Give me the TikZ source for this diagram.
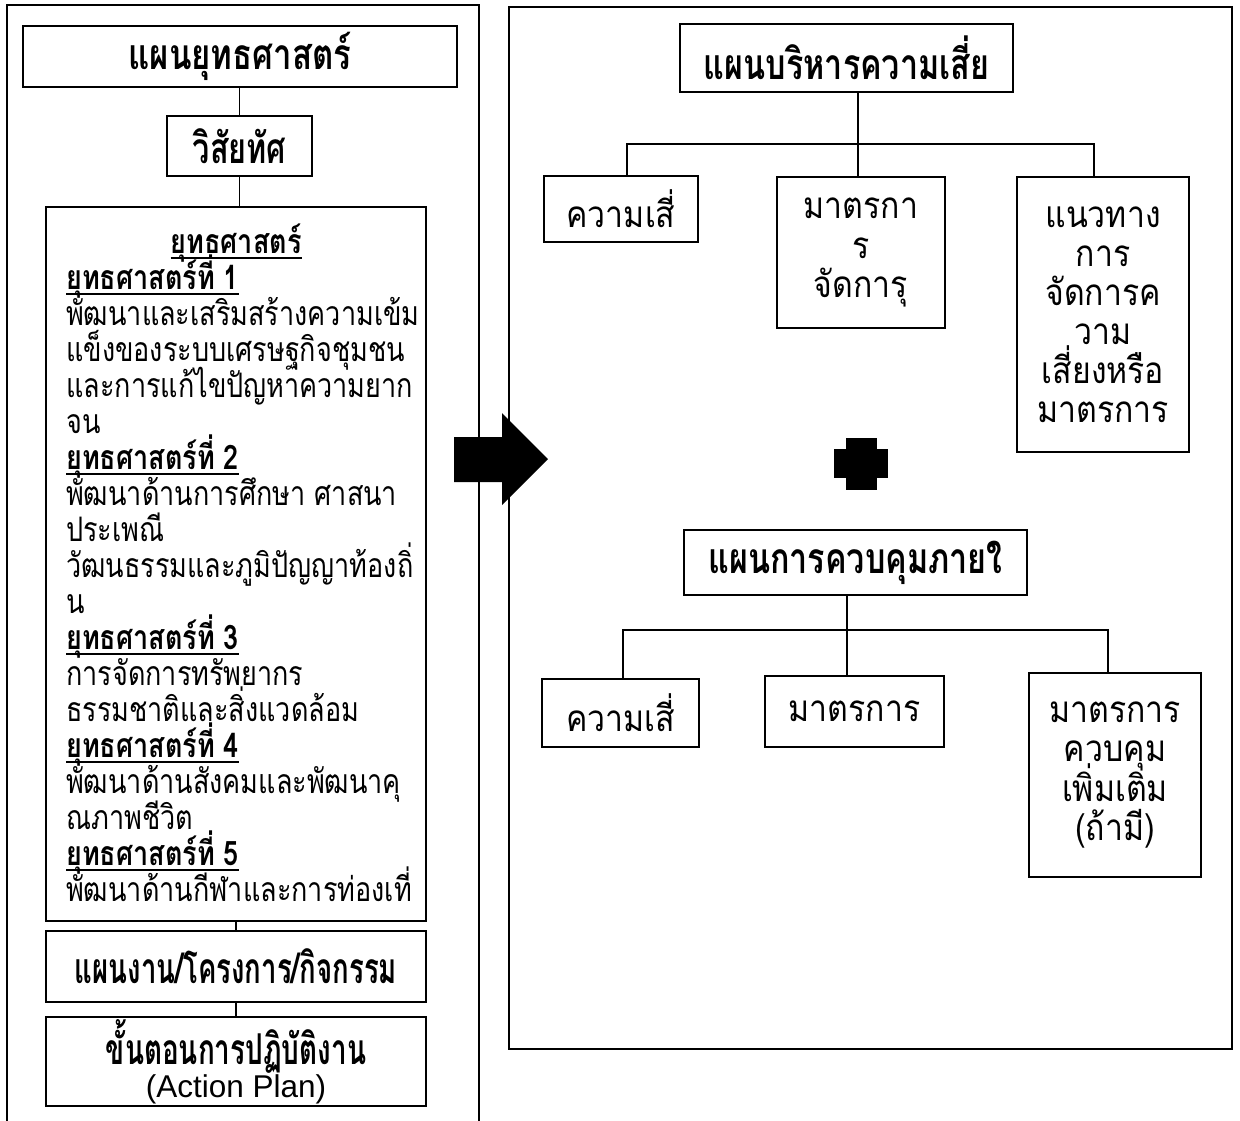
\documentclass[tikz,border=0pt]{standalone}
\usepackage{fontspec}
\usepackage{graphicx}
\setmainfont{Liberation Sans}
\newfontfamily\thai[Script=Thai]{Loma}
% bold heading with an underline set just below the baseline
\newcommand\yhead[1]{\setbox0\hbox{\textbf{#1}}\rlap{\rule[-4.2pt]{\wd0}{1.4pt}}\box0}
% stacked centred lines with a fixed baseline distance, scaled
\newcommand\cstack[3]{\scalebox{#1}[#2]{\vbox{\lineskiplimit=-100pt\halign{\hfil##\hfil\cr#3\crcr}}}}
% scaled heading
\newcommand\hsc[2]{\scalebox{#1}[1.25]{#2}}
\tikzset{
  frame/.style={draw, line width=1.6pt},
  box/.style={draw, line width=1.2pt, inner sep=0pt, align=center},
  conn/.style={line width=1.4pt},
  hfont/.style={font=\thai\bfseries\fontsize{34}{40}\selectfont},
  bfont/.style={font=\thai\fontsize{27}{28.8}\selectfont},
  rfont/.style={font=\thai\fontsize{32}{34}\selectfont},
}
\begin{document}
\begin{tikzpicture}[x=1pt,y=-1pt]
\useasboundingbox (0,0) rectangle (1240,1120);
% left frame (runs off the bottom)
\draw[frame] (7,1125) -- (7,5) -- (479,5) -- (479,1125);
% right frame
\node[frame, minimum width=723pt, minimum height=1042pt, inner sep=0pt] (rframe) at (870.5,528) {};

% left column
\node[box, hfont, minimum width=434pt, minimum height=61pt] (strat) at (240,56.5) {\hsc{0.97}{แผนยุทธศาสตร์}};
\node[box, hfont, minimum width=145pt, minimum height=60pt] (vision) at (239.5,146) {\hsc{0.9}{วิสัยทัศ}};
\node[box, minimum width=380pt, minimum height=714pt] (ystrat) at (236,564) {};
\node[bfont, anchor=west, inner sep=0pt] (ytext) at (66,563) {\scalebox{1}[1.25]{\vbox{\lineskiplimit=-100pt\halign{#\hfil\cr
\hbox to 340pt{\hfil\yhead{ยุทธศาสตร์}\hfil}\cr
\yhead{ยุทธศาสตร์ที่ 1}\cr
พัฒนาและเสริมสร้างความเข้ม\cr
แข็งของระบบเศรษฐกิจชุมชน\cr
และการแก้ไขปัญหาความยาก\cr
จน\cr
\yhead{ยุทธศาสตร์ที่ 2}\cr
พัฒนาด้านการศึกษา ศาสนา\cr
ประเพณี\cr
วัฒนธรรมและภูมิปัญญาท้องถิ่\cr
น\cr
\yhead{ยุทธศาสตร์ที่ 3}\cr
การจัดการทรัพยากร\cr
ธรรมชาติและสิ่งแวดล้อม\cr
\yhead{ยุทธศาสตร์ที่ 4}\cr
พัฒนาด้านสังคมและพัฒนาคุ\cr
ณภาพชีวิต\cr
\yhead{ยุทธศาสตร์ที่ 5}\cr
พัฒนาด้านกีฬาและการท่องเที่\cr}}}};
\node[box, hfont, minimum width=380pt, minimum height=71pt] (plan) at (236,966.5) {\hsc{0.81}{แผนงาน/โครงการ/กิจกรรม}};
\node[box, minimum width=380pt, minimum height=89pt] (action) at (236,1061.5) {\vbox{\baselineskip=33pt\lineskiplimit=-100pt\halign{\hfil#\hfil\cr
{\thai\bfseries\fontsize{34}{34}\selectfont\hsc{0.82}{ขั้นตอนการปฏิบัติงาน}}\cr
{\fontsize{31.5}{34}\selectfont (Action Plan)}\cr}}};

\draw[conn] (vision.north) -- (vision.north |- strat.south);
\draw[conn] (vision.south) -- (vision.south |- ystrat.north);
\draw[conn] (ystrat.south) -- (plan.north);
\draw[conn] (plan.south) -- (action.north);

% arrow
\fill (454,437) -- (502,437) -- (502,413) -- (548,459) -- (502,505) -- (502,482) -- (454,482) -- cycle;

% risk management plan
\node[box, hfont, minimum width=333pt, minimum height=68pt] (risk) at (846.5,58) {\hsc{0.95}{แผนบริหารความเสี่ย}};
\node[box, rfont, minimum width=154pt, minimum height=66pt] (r1) at (621,209) {\scalebox{1}[1.15]{ความเสี่}};
\node[box, rfont, minimum width=168pt, minimum height=151pt] (r2) at (861,252.5) {\cstack{1}{1.15}{มาตรกา\cr ร\cr จัดการุ}};
\node[box, rfont, minimum width=172pt, minimum height=275pt] (r3) at (1103,314.5) {\cstack{1}{1.15}{แนวทาง\cr การ\cr จัดการค\cr วาม\cr เสี่ยงหรือ\cr มาตรการ}};
\coordinate (rt) at (858,144);
\coordinate (rl) at (627,144);
\coordinate (rr) at (1094,144);
\draw[conn] (rt |- risk.south) -- (rt);
\draw[conn] (rl |- r1.north) -- (rl) -- (rr) -- (rr |- r3.north);
\draw[conn] (rt) -- (rt |- r2.north);

% plus sign
\fill (846,438) rectangle (877,490);
\fill (834,449) rectangle (888,478);

% internal control plan
\node[box, hfont, minimum width=343pt, minimum height=65pt] (ctrl) at (855.5,562.5) {\hsc{0.95}{แผนการควบคุมภายใ}};
\node[box, rfont, minimum width=157pt, minimum height=68pt] (c1) at (620.5,713) {\scalebox{1}[1.15]{ความเสี่}};
\node[box, rfont, minimum width=179pt, minimum height=71pt] (c2) at (854.5,711.5) {\scalebox{1}[1.15]{มาตรการ}};
\node[box, rfont, minimum width=172pt, minimum height=204pt] (c3) at (1115,775) {\cstack{1}{1.15}{มาตรการ\cr ควบคุม\cr เพิ่มเติม\cr (ถ้ามี)}};
\coordinate (ct) at (847,630);
\coordinate (cl) at (623,630);
\coordinate (cr) at (1108,630);
\draw[conn] (ct |- ctrl.south) -- (ct);
\draw[conn] (cl |- c1.north) -- (cl) -- (cr) -- (cr |- c3.north);
\draw[conn] (ct) -- (ct |- c2.north);
\end{tikzpicture}
\end{document}
